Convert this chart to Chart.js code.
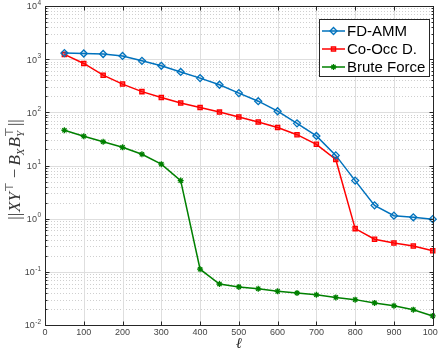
<!DOCTYPE html>
<html><head><meta charset="utf-8">
<script src="https://cdn.jsdelivr.net/npm/chart.js@4/dist/chart.umd.min.js"></script>
<style>html,body{margin:0;padding:0;background:#fff;}#wrap{width:438px;height:353px;}</style>
</head><body><div id="wrap"><canvas id="c" width="438" height="353"></canvas></div>
<script>
// ---- data ----
const ells = [50,100,150,200,250,300,350,400,450,500,550,600,650,700,750,800,850,900,950,1000];
const fdAmm = [1300,1280,1250,1150,930,750,575,440,330,230,162,105,62,36,15.5,5.2,1.78,1.14,1.06,0.98];
const coOcc = [1230,830,500,340,245,190,150,123,101,82,66,52,38,25,13,0.65,0.41,0.35,0.305,0.25];
const bruteForce = [46,35.5,28,22,16.3,10.6,5.2,0.112,0.059,0.052,0.048,0.043,0.040,0.037,0.033,0.030,0.026,0.023,0.0194,0.0148];
const seriesNames = ['FD-AMM','Co-Occ D.','Brute Force'];
const xTicks = [0,100,200,300,400,500,600,700,800,900,1000];
const yDecades = [-2,-1,0,1,2,3,4];
const xTitle = 'ℓ';

const colors = ['#0072BD','#FF0000','#008000'];
const styles = [
  {pointStyle:'rectRot', radius:3.5, bg:'rgba(0,114,189,0.12)'},
  {pointStyle:'rect', radius:3, bg:'rgba(255,0,0,0.6)'},
  {pointStyle:'star', radius:3, bg:'#008000'}
];
const allSeries = [fdAmm, coOcc, bruteForce];

const datasets = allSeries.map((s,k)=>({
  label: seriesNames[k],
  data: ells.map((x,i)=>({x:x, y:s[i]})),
  borderColor: colors[k],
  backgroundColor: styles[k].bg,
  borderWidth: 1.5,
  pointStyle: styles[k].pointStyle,
  pointRadius: styles[k].radius,
  pointBorderWidth: 1.3,
  pointBorderColor: colors[k],
  pointBackgroundColor: styles[k].bg,
  tension: 0,
  clip: false
}));

const crisp = v => Math.round(v) + 0.5;

const axesPlugin = {
  id: 'matlabAxes',
  beforeDatasetsDraw(chart) {
    const ctx = chart.ctx, a = chart.chartArea;
    const xs = chart.scales.x, ys = chart.scales.y;
    ctx.save();
    ctx.strokeStyle = '#cfcfcf';
    ctx.lineWidth = 1;
    ctx.setLineDash([1,2]);
    for (let d = yDecades[0]; d < yDecades[yDecades.length-1]; d++) {
      for (let m = 2; m <= 9; m++) {
        const y = crisp(ys.getPixelForValue(m*Math.pow(10,d)));
        ctx.beginPath(); ctx.moveTo(a.left, y); ctx.lineTo(a.right, y); ctx.stroke();
      }
    }
    ctx.setLineDash([]);
    ctx.strokeStyle = '#dedede';
    yDecades.forEach(d => {
      const y = crisp(ys.getPixelForValue(Math.pow(10,d)));
      ctx.beginPath(); ctx.moveTo(a.left, y); ctx.lineTo(a.right, y); ctx.stroke();
    });
    xTicks.forEach(t => {
      const x = crisp(xs.getPixelForValue(t));
      ctx.beginPath(); ctx.moveTo(x, a.top); ctx.lineTo(x, a.bottom); ctx.stroke();
    });
    ctx.restore();
  },
  afterDatasetsDraw(chart) {
    const ctx = chart.ctx, a = chart.chartArea;
    const xs = chart.scales.x, ys = chart.scales.y;
    ctx.save();
    const axisCol = '#262626';
    ctx.strokeStyle = axisCol;
    ctx.lineWidth = 1;
    const L = crisp(a.left), R = crisp(a.right), T = crisp(a.top), B = crisp(a.bottom);
    ctx.strokeRect(L, T, R-L, B-T);
    const majL = 4, minL = 2;
    yDecades.forEach((d, idx) => {
      const y = crisp(ys.getPixelForValue(Math.pow(10,d)));
      ctx.beginPath(); ctx.moveTo(L, y); ctx.lineTo(L+majL, y); ctx.moveTo(R, y); ctx.lineTo(R-majL, y); ctx.stroke();
      if (idx < yDecades.length-1) {
        for (let m = 2; m <= 9; m++) {
          const yy = crisp(ys.getPixelForValue(m*Math.pow(10,d)));
          ctx.beginPath(); ctx.moveTo(L, yy); ctx.lineTo(L+minL, yy); ctx.moveTo(R, yy); ctx.lineTo(R-minL, yy); ctx.stroke();
        }
      }
    });
    xTicks.forEach(t => {
      const x = crisp(xs.getPixelForValue(t));
      ctx.beginPath(); ctx.moveTo(x, B); ctx.lineTo(x, B-majL); ctx.moveTo(x, T); ctx.lineTo(x, T+majL); ctx.stroke();
    });
    const labCol = '#444';
    ctx.fillStyle = labCol;
    ctx.font = '9px "Liberation Sans", Arial, sans-serif';
    ctx.textAlign = 'center'; ctx.textBaseline = 'middle';
    xTicks.forEach(t => {
      ctx.fillText(String(t), xs.getPixelForValue(t), 333);
    });
    yDecades.forEach(d => {
      const y = ys.getPixelForValue(Math.pow(10,d));
      const exp = String(d);
      ctx.font = '6.5px "Liberation Sans", Arial, sans-serif';
      const ew = ctx.measureText(exp).width;
      const right = a.left - 4;
      ctx.textAlign = 'left'; ctx.textBaseline = 'middle';
      ctx.fillText(exp, right - ew, y - 3);
      ctx.font = '9px "Liberation Sans", Arial, sans-serif';
      ctx.textAlign = 'right';
      ctx.fillText('10', right - ew - 0.5, y + 1);
    });
    ctx.fillStyle = '#262626';
    ctx.font = 'italic 15px "Liberation Serif", "DejaVu Serif", serif';
    ctx.textAlign = 'center'; ctx.textBaseline = 'middle';
    ctx.fillText(xTitle, (a.left + a.right)/2, 344);
    drawYTitle(ctx, 20, (a.top + a.bottom)/2 + 4);
    drawLegend(chart);
    ctx.restore();
  }
};

function drawYTitle(ctx, bx, cy) {
  const fs = 17;
  const serif = '"Liberation Serif", "Times New Roman", serif';
  const pieces = [
    {t:'||', f:`${fs}px ${serif}`, dy:0, adv:true, pad:1},
    {t:'XY', f:`italic ${fs}px ${serif}`, dy:0, adv:true, pad:0},
    {t:'⊤', f:`${fs*0.65}px ${serif}`, dy:-fs*0.42, adv:true, pad:2},
    {t:'−', f:`${fs}px ${serif}`, dy:0, adv:true, pad:3, lpad:2},
    {t:'B', f:`italic ${fs}px ${serif}`, dy:0, adv:true, pad:0},
    {t:'X', f:`italic ${fs*0.65}px ${serif}`, dy:fs*0.22, adv:true, pad:1},
    {t:'B', f:`italic ${fs}px ${serif}`, dy:0, adv:true, pad:0},
    {t:'Y', f:`italic ${fs*0.65}px ${serif}`, dy:fs*0.22, adv:false, pad:0},
    {t:'⊤', f:`${fs*0.65}px ${serif}`, dy:-fs*0.42, adv:true, pad:1},
    {t:'||', f:`${fs}px ${serif}`, dy:0, adv:true, pad:0}
  ];
  ctx.save();
  let total = 0; const w = [];
  pieces.forEach((p,i) => { ctx.font = p.f; w[i] = ctx.measureText(p.t).width; });
  let maxSub = 0;
  pieces.forEach((p,i) => {
    total += (p.lpad||0);
    if (p.adv) { total += Math.max(w[i], maxSub) + p.pad; maxSub = 0; }
    else { maxSub = w[i]; }
  });
  ctx.translate(bx, cy);
  ctx.rotate(-Math.PI/2);
  ctx.fillStyle = '#333';
  ctx.textAlign = 'left'; ctx.textBaseline = 'alphabetic';
  let x = -total/2; maxSub = 0;
  pieces.forEach((p,i) => {
    x += (p.lpad||0);
    ctx.font = p.f;
    ctx.fillText(p.t, x, p.dy);
    if (p.adv) { x += Math.max(w[i], maxSub) + p.pad; maxSub = 0; }
    else { maxSub = w[i]; }
  });
  ctx.restore();
}

function drawLegend(chart) {
  const ctx = chart.ctx;
  const bx = 319.5, by = 19.5, bw = 110, bh = 57;
  ctx.save();
  ctx.fillStyle = '#fff';
  ctx.fillRect(bx, by, bw, bh);
  ctx.strokeStyle = '#262626'; ctx.lineWidth = 1;
  ctx.strokeRect(bx, by, bw, bh);
  const rows = [31, 49, 67];
  seriesNames.forEach((name, k) => {
    const y = rows[k];
    ctx.strokeStyle = colors[k]; ctx.lineWidth = 1.5;
    ctx.beginPath(); ctx.moveTo(322, y); ctx.lineTo(345, y); ctx.stroke();
    ctx.fillStyle = styles[k].bg; ctx.strokeStyle = colors[k]; ctx.lineWidth = 1.3;
    Chart.helpers.drawPoint(ctx, {pointStyle: styles[k].pointStyle, radius: styles[k].radius, rotation: 0, borderWidth: 1.3}, 333.5, y);
    ctx.fillStyle = '#000';
    ctx.font = '15px "Liberation Sans", Arial, sans-serif';
    ctx.textAlign = 'left'; ctx.textBaseline = 'middle';
    ctx.fillText(name, 347, y + 1);
  });
  ctx.restore();
}

new Chart(document.getElementById('c'), {
  type: 'line',
  data: { datasets: datasets },
  options: {
    responsive: false,
    animation: false,
    devicePixelRatio: 1,
    layout: { padding: { left: 45, right: 5, top: 6, bottom: 28 } },
    scales: {
      x: { type: 'linear', min: 0, max: 1000, display: false },
      y: { type: 'logarithmic', min: 0.01, max: 10000, display: false }
    },
    plugins: { legend: { display: false }, tooltip: { enabled: false } }
  },
  plugins: [axesPlugin]
});
</script>
</body></html>
